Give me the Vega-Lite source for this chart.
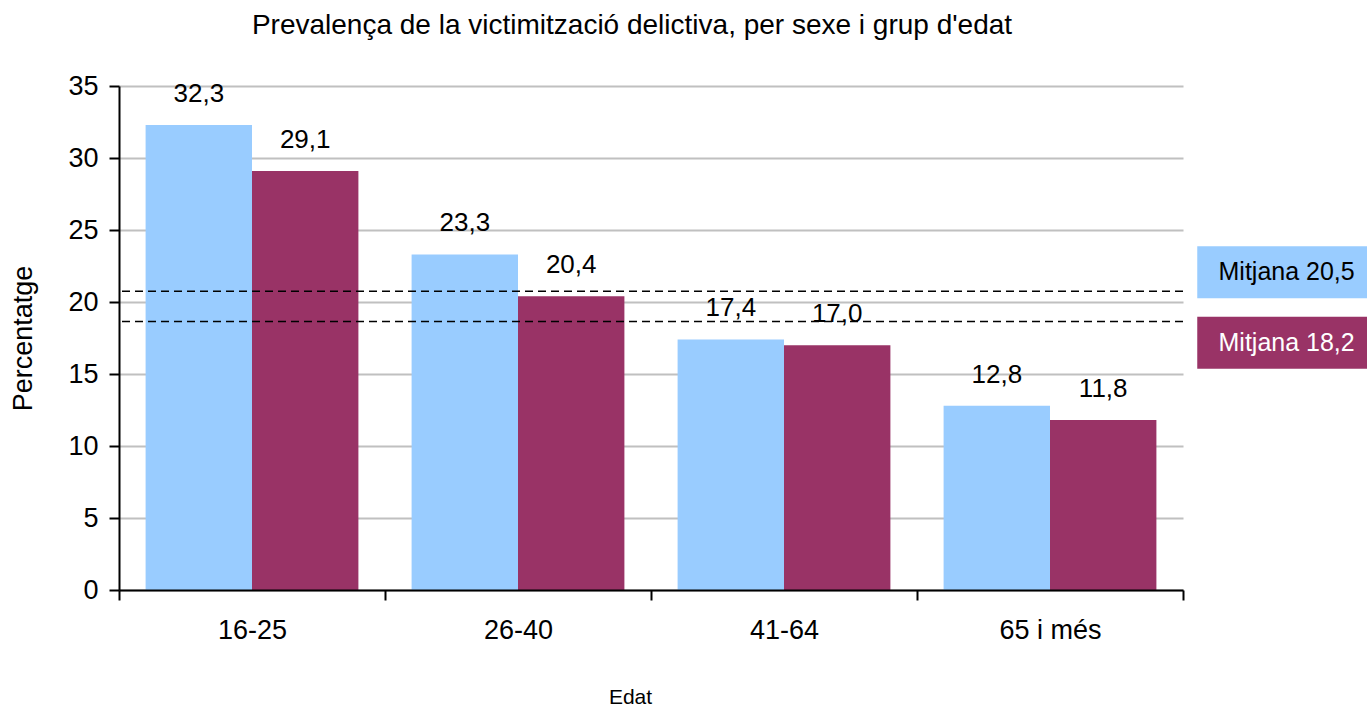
{
  "$schema": "https://vega.github.io/schema/vega-lite/v6.json",
  "autosize": {"type": "none"},
  "width": 1064,
  "height": 504,
  "padding": {"left": 119, "top": 86, "right": 184, "bottom": 118},
  "background": "white",
  "config": {
    "font": "Liberation Sans",
    "view": {"stroke": null},
    "locale": {"number": {"decimal": ",", "thousands": ".", "grouping": [3], "currency": ["", " €"]}}
  },
  "title": {
    "text": "Prevalença de la victimització delictiva, per sexe i grup d'edat",
    "fontSize": 28,
    "fontWeight": "normal",
    "color": "black",
    "anchor": "middle",
    "offset": 32,
    "dx": -19
  },
  "datasets": {
    "barres": [
      {"edat": "16-25", "sexe": "Homes", "valor": 32.3},
      {"edat": "16-25", "sexe": "Dones", "valor": 29.1},
      {"edat": "26-40", "sexe": "Homes", "valor": 23.3},
      {"edat": "26-40", "sexe": "Dones", "valor": 20.4},
      {"edat": "41-64", "sexe": "Homes", "valor": 17.4},
      {"edat": "41-64", "sexe": "Dones", "valor": 17.0},
      {"edat": "65 i més", "sexe": "Homes", "valor": 12.8},
      {"edat": "65 i més", "sexe": "Dones", "valor": 11.8}
    ],
    "mitjanes": [
      {"sexe": "Homes", "mitjana": 20.75},
      {"sexe": "Dones", "mitjana": 18.65}
    ]
  },
  "layer": [
    {
      "data": {"name": "barres"},
      "mark": {"type": "bar"},
      "encoding": {
        "x": {
          "field": "edat", "type": "nominal", "sort": null,
          "scale": {"paddingInner": 0, "paddingOuter": 0},
          "axis": {
            "title": "Edat", "titleFontSize": 21, "titleFontWeight": "normal", "titleColor": "black",
            "titleX": 511, "titlePadding": 43,
            "labelFontSize": 27, "labelAngle": 0, "labelColor": "black", "labelPadding": 17,
            "tickBand": "extent", "tickSize": 10, "tickColor": "black", "tickWidth": 2,
            "domainColor": "black", "domainWidth": 2, "grid": false, "zindex": 1
          }
        },
        "xOffset": {"field": "sexe", "type": "nominal", "scale": {"domain": ["Homes", "Dones"], "paddingOuter": 0.25, "paddingInner": 0}},
        "y": {
          "field": "valor", "type": "quantitative",
          "scale": {"domain": [0, 35]},
          "axis": {
            "title": "Percentatge", "titleFontSize": 27, "titleFontWeight": "normal", "titleColor": "black",
            "titlePadding": 30,
            "values": [0, 5, 10, 15, 20, 25, 30, 35],
            "labelFontSize": 27, "labelColor": "black", "labelPadding": 11,
            "tickSize": 10, "tickColor": "black", "tickWidth": 2,
            "domainColor": "black", "domainWidth": 2,
            "grid": true, "gridColor": "#c0c0c0", "gridWidth": 2
          }
        },
        "color": {
          "field": "sexe", "type": "nominal",
          "scale": {"domain": ["Homes", "Dones"], "range": ["#99CCFF", "#993366"]},
          "legend": {
            "orient": "none", "legendX": 1141.75, "legendY": 164.75,
            "title": null,
            "symbolType": "M-4,-1.224H4V1.224H-4Z",
            "symbolSize": 1806.25,
            "symbolStrokeWidth": 0,
            "symbolOpacity": 1,
            "labelFontSize": 25,
            "labelOffset": -85.25,
            "labelLimit": 200,
            "rowPadding": 17.5,
            "labelExpr": "datum.value == 'Homes' ? 'Mitjana 20,5' : 'Mitjana 18,2'",
            "encode": {"labels": {"update": {"fill": {"signal": "datum.value == 'Dones' ? 'white' : 'black'"}}}}
          }
        }
      }
    },
    {
      "data": {"name": "barres"},
      "mark": {"type": "text", "dy": -23, "baseline": "alphabetic", "fontSize": 26, "color": "black"},
      "encoding": {
        "x": {"field": "edat", "type": "nominal", "sort": null},
        "xOffset": {"field": "sexe", "type": "nominal"},
        "y": {"field": "valor", "type": "quantitative"},
        "text": {"field": "valor", "type": "quantitative", "format": ".1f"}
      }
    },
    {
      "data": {"name": "mitjanes"},
      "mark": {"type": "rule", "strokeDash": [8, 5], "color": "black", "strokeWidth": 1.5},
      "encoding": {
        "y": {"field": "mitjana", "type": "quantitative"}
      }
    }
  ]
}
